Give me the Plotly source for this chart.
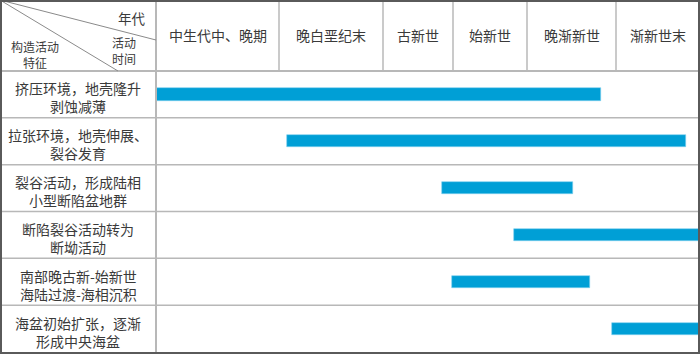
import plotly.graph_objects as go

# ---- data ----
periods = ["中生代中、晚期", "晚白垩纪末", "古新世", "始新世", "晚渐新世", "渐新世末"]
# relative time scale: boundaries of the period columns
period_edges = [0, 123, 227, 297, 371, 460, 543]

activities = [
    "挤压环境，地壳隆升<br>剥蚀减薄",
    "拉张环境，地壳伸展、<br>裂谷发育",
    "裂谷活动，形成陆相<br>小型断陷盆地群",
    "断陷裂谷活动转为<br>断坳活动",
    "南部晚古新-始新世<br>海陆过渡-海相沉积",
    "海盆初始扩张，逐渐<br>形成中央海盆",
]
start_vals = [0, 131, 286, 358, 296, 456]
end_vals = [445, 530, 417, 543, 434, 543]

# ---- figure ----
W, H = 700, 354
left_px, header_px, bottom_px, right_px = 156, 71, 352, 699
FONT = "Noto Sans CJK SC"
TXT = "#3a3a3a"
GRID = "#b8b8b8"

y_idx = list(range(len(activities)))
fig = go.Figure()
fig.add_trace(go.Bar(
    y=y_idx,
    x=[e - s for s, e in zip(start_vals, end_vals)],
    base=start_vals,
    orientation="h",
    width=0.26,
    marker=dict(color="#009FD6", line=dict(color="#7fd0ee", width=0.6)),
    hoverinfo="skip",
))

y_top = 1 - header_px / H
y_bot = 1 - bottom_px / H

shapes = []
# row separators
for i in range(len(activities) - 1):
    shapes.append(dict(type="line", xref="paper", yref="y", x0=0, x1=1,
                       y0=i + 0.5, y1=i + 0.5, line=dict(color=GRID, width=1.5)))
# header bottom line
shapes.append(dict(type="line", xref="paper", yref="paper", x0=0, x1=1,
                   y0=y_top, y1=y_top, line=dict(color=GRID, width=2)))
# left column divider
shapes.append(dict(type="line", xref="paper", yref="paper", x0=left_px / W, x1=left_px / W,
                   y0=0, y1=1, line=dict(color=GRID, width=2)))
# header column dividers
for e in period_edges[1:-1]:
    shapes.append(dict(type="line", xref="x", yref="paper", x0=e, x1=e,
                       y0=y_top, y1=1, line=dict(color=GRID, width=1.5)))
# diagonal lines in corner cell
shapes.append(dict(type="line", xref="paper", yref="paper", x0=0, y0=1,
                   x1=left_px / W, y1=1 - 40 / H, line=dict(color="#8a8a8a", width=1)))
shapes.append(dict(type="line", xref="paper", yref="paper", x0=0, y0=1,
                   x1=118 / W, y1=y_top, line=dict(color="#8a8a8a", width=1)))
# outer border
shapes.append(dict(type="rect", xref="paper", yref="paper", x0=1 / W, x1=699 / W,
                   y0=1 / H, y1=1 - 1 / H, line=dict(color="#5a5a5a", width=2)))

annotations = []
# header period labels
for i, p in enumerate(periods):
    cx = (period_edges[i] + period_edges[i + 1]) / 2
    annotations.append(dict(x=cx, y=1 - 35 / H, xref="x", yref="paper", text=p,
                            xanchor="center", yanchor="middle",
                            showarrow=False, font=dict(family=FONT, size=14, color=TXT)))
# row labels
for i, a in enumerate(activities):
    annotations.append(dict(x=78 / W, y=i, xref="paper", yref="y", text=a, yshift=-3,
                            xanchor="center", yanchor="middle",
                            showarrow=False, align="center",
                            font=dict(family=FONT, size=14, color=TXT)))
# corner labels
corner = [("年代", 132, 18, 13.5), ("活动", 124, 42, 12), ("时间", 124, 59, 12),
          ("构造活动", 35, 46, 12), ("特征", 35, 63, 12)]
for t, px, py, fs in corner:
    annotations.append(dict(x=px / W, y=1 - py / H, xref="paper", yref="paper", text=t,
                            xanchor="center", yanchor="middle", align="center",
                            showarrow=False, font=dict(family=FONT, size=fs, color=TXT)))

fig.update_layout(
    width=W, height=H,
    margin=dict(l=0, r=0, t=0, b=0),
    paper_bgcolor="white", plot_bgcolor="white",
    showlegend=False,
    xaxis=dict(range=[period_edges[0], period_edges[-1]], domain=[left_px / W, right_px / W],
               showgrid=False, zeroline=False, showticklabels=False, fixedrange=True),
    yaxis=dict(range=[len(activities) - 0.5, -0.5], domain=[y_bot, y_top],
               showgrid=False, zeroline=False, showticklabels=False, fixedrange=True),
    shapes=shapes, annotations=annotations,
    bargap=0,
)
fig.write_html("out.html", config={"displayModeBar": False},
               post_script="document.body.style.margin='0';document.body.style.overflow='hidden';")
